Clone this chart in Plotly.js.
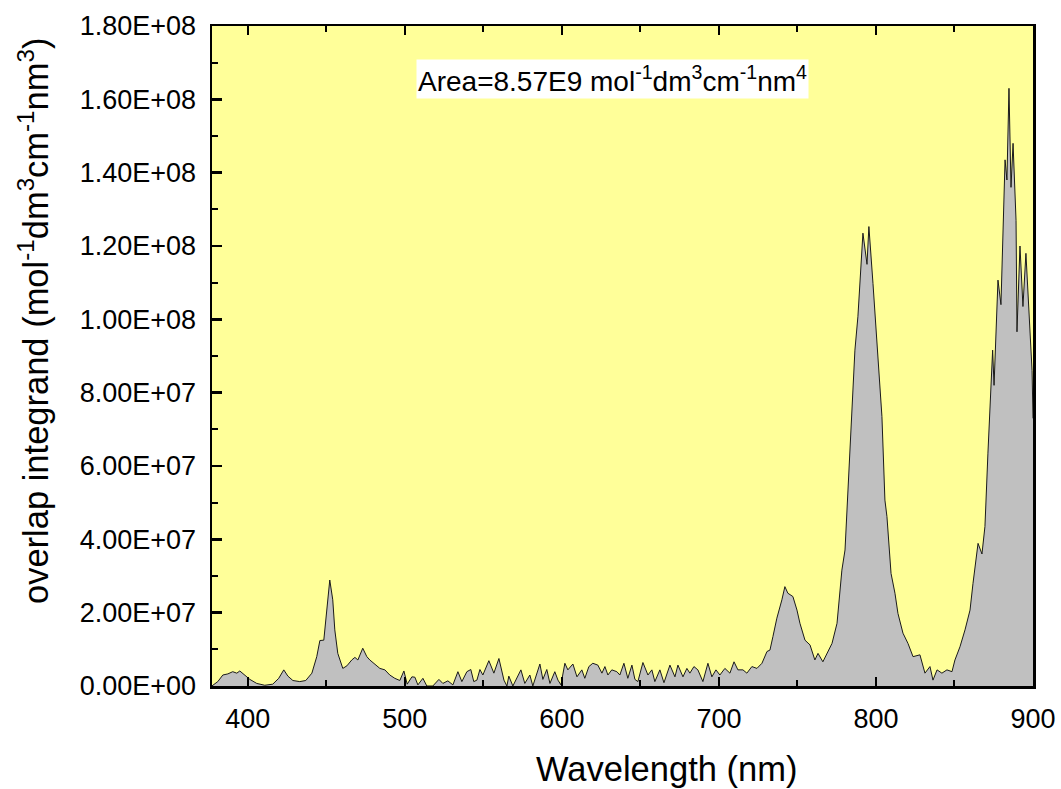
<!DOCTYPE html>
<html>
<head>
<meta charset="utf-8">
<script src="https://cdn.plot.ly/plotly-3.0.1.min.js"></script>
<style>html,body{margin:0;padding:0;background:#fff;}#chart{width:1061px;height:789px;}</style>
</head>
<body>
<div id="chart"></div>
<script>
// Wavelength (nm)
const wavelength = [
377.1,380.9,384.1,387.3,390.4,393.0,394.9,398.1,401.3,405.7,410.8,415.9,419.7,422.9,425.5,428.7,433.1,436.9,440.8,443.9,
445.9,448.4,450.3,452.2,454.1,455.4,457.3,460.5,463.1,466.2,468.2,470.1,473.2,475.8,477.7,480.9,484.1,487.3,490.4,493.6,
496.8,499.4,501.5,504.5,506.4,508.3,511.5,514.0,517.8,521.7,524.2,527.4,530.6,533.8,536.3,539.5,542.0,543.9,545.9,547.8,
549.7,553.5,556.7,559.9,563.1,565.0,566.2,568.8,573.9,576.4,579.6,581.5,586.0,587.9,590.4,592.4,595.5,597.5,599.4,601.9,
603.8,607.0,609.6,612.7,614.6,617.2,619.7,622.9,625.5,627.4,629.3,631.8,635.0,636.9,639.5,642.0,644.6,646.5,648.4,651.6,
654.8,657.3,659.2,662.4,665.0,668.8,672.0,673.9,677.1,679.6,681.5,684.1,686.6,689.8,693.0,695.5,698.1,700.6,703.8,707.0,
709.6,712.1,715.3,717.8,721.0,724.2,727.4,730.6,732.5,734.4,736.9,740.1,742.0,743.9,747.1,749.7,751.6,754.8,758.0,761.1,
763.1,766.2,768.8,772.0,775.2,778.3,780.3,783.4,785.4,786.6,788.5,791.7,794.3,795.5,798.1,800.0,801.3,803.8,805.7,807.0,
809.6,812.1,814.0,817.2,820.4,823.6,828.0,831.2,834.4,836.3,838.9,842.0,845.2,848.4,850.3,853.5,856.7,859.9,861.8,865.0,
867.5,869.4,871.3,874.3,875.2,877.7,879.6,882.2,883.4,884.7,886.0,887.3,889.2,889.8,891.7,893.6,895.5,897.5,899.4,900.0
];
// Overlap integrand, in units of 1E+07 mol^-1 dm^3 cm^-1 nm^3
const integrandE7 = [
0.00,0.12,0.30,0.33,0.39,0.35,0.41,0.30,0.18,0.07,0.02,0.05,0.21,0.44,0.27,0.15,0.12,0.15,0.35,0.80,
1.24,1.25,1.98,2.89,2.35,1.53,0.89,0.48,0.55,0.71,0.78,0.71,1.03,0.80,0.71,0.60,0.48,0.44,0.30,0.21,
0.15,0.41,0.05,0.25,0.24,0.03,0.21,0.00,0.00,0.18,0.07,0.14,0.03,0.39,0.12,0.39,0.45,0.12,0.16,0.45,
0.30,0.69,0.35,0.75,0.16,0.00,0.27,0.00,0.44,0.07,0.30,0.00,0.60,0.18,0.45,0.07,0.39,0.16,0.03,0.62,
0.44,0.60,0.25,0.44,0.21,0.53,0.62,0.57,0.35,0.53,0.30,0.44,0.39,0.30,0.62,0.21,0.57,0.18,0.12,0.64,
0.30,0.44,0.12,0.44,0.09,0.57,0.25,0.57,0.25,0.48,0.35,0.53,0.44,0.12,0.62,0.25,0.44,0.30,0.48,0.35,
0.66,0.44,0.44,0.35,0.53,0.48,0.62,0.94,0.98,1.35,1.85,2.35,2.71,2.53,2.44,2.07,1.71,1.25,1.12,0.71,
0.89,0.66,0.89,1.16,1.71,3.16,3.71,6.44,7.80,9.16,10.07,12.35,11.50,12.53,10.98,9.80,9.07,7.35,5.07,4.62,
3.07,2.53,1.98,1.44,1.16,0.80,0.85,0.35,0.53,0.16,0.44,0.35,0.44,0.39,0.71,1.07,1.53,2.07,2.80,3.89,
3.60,4.35,6.35,9.16,8.20,11.07,10.40,14.35,13.80,16.30,13.60,14.80,12.70,9.66,12.00,10.35,11.80,9.98,8.60,7.30
];
const unitScale = 1e7;

// Tick labels and texts
const yTickVals = [0, 2e7, 4e7, 6e7, 8e7, 1e8, 1.2e8, 1.4e8, 1.6e8, 1.8e8];
const yTickText = ["0.00E+00","2.00E+07","4.00E+07","6.00E+07","8.00E+07","1.00E+08","1.20E+08","1.40E+08","1.60E+08","1.80E+08"];
const xTickVals = [400, 500, 600, 700, 800, 900];
const xTickText = ["400","500","600","700","800","900"];
const xTitle = "Wavelength (nm)";
const yTitle = "overlap integrand (mol<sup>-1</sup>dm<sup>3</sup>cm<sup>-1</sup>nm<sup>3</sup>)";
const areaLabel = "Area=8.57E9 mol<sup>-1</sup>dm<sup>3</sup>cm<sup>-1</sup>nm<sup>4</sup>";

const font = "Liberation Sans, Arial, Helvetica, sans-serif";

const trace = {
  x: wavelength,
  y: integrandE7.map(v => v * unitScale),
  type: "scatter",
  mode: "lines",
  fill: "tozeroy",
  fillcolor: "#c0c0c0",
  line: {color: "#1a1a1a", width: 1},
  hoverinfo: "x+y"
};

const layout = {
  width: 1061, height: 789,
  margin: {l: 212, r: 28, t: 26, b: 103},
  paper_bgcolor: "#ffffff",
  plot_bgcolor: "#ffff99",
  showlegend: false,
  font: {family: font, color: "#000"},
  xaxis: {
    range: [377.2, 900],
    tickmode: "array", tickvals: xTickVals, ticktext: xTickText,
    ticks: "inside", ticklen: 9, tickwidth: 2.5, tickcolor: "#000",
    minor: {tickmode: "linear", tick0: 350, dtick: 50, ticks: "inside", ticklen: 6, tickwidth: 2, tickcolor: "#000"},
    showline: true, linewidth: 2.5, linecolor: "#000", mirror: "ticks",
    showgrid: false, zeroline: false,
    tickfont: {size: 27, family: font},
    ticklabelstandoff: 7,
    automargin: false
  },
  yaxis: {
    range: [0, 1.8e8],
    tickmode: "array", tickvals: yTickVals, ticktext: yTickText,
    ticks: "inside", ticklen: 10, tickwidth: 2.5, tickcolor: "#000",
    minor: {tickmode: "linear", tick0: 0, dtick: 1e7, ticks: "inside", ticklen: 6, tickwidth: 2, tickcolor: "#000"},
    showline: true, linewidth: 2.5, linecolor: "#000", mirror: true,
    showgrid: false, zeroline: false,
    tickfont: {size: 27, family: font},
    ticklabelstandoff: 8,
    automargin: false
  },
  annotations: [
    {
      xref: "paper", yref: "paper",
      x: 0.488, y: 0.92,
      xanchor: "center", yanchor: "middle",
      text: areaLabel,
      showarrow: false,
      font: {size: 28, family: font, color: "#000"},
      bgcolor: "#ffffff",
      borderpad: 1
    },
    {
      xref: "paper", yref: "paper",
      x: 0.553, y: -0.125,
      xanchor: "center", yanchor: "middle",
      text: xTitle,
      showarrow: false,
      font: {size: 34.5, family: font, color: "#000"}
    },
    {
      xref: "paper", yref: "paper",
      x: -0.218, y: 0.553,
      xanchor: "center", yanchor: "middle",
      textangle: -90,
      text: yTitle,
      showarrow: false,
      font: {size: 34.5, family: font, color: "#000"}
    }
  ]
};

Plotly.newPlot("chart", [trace], layout, {displayModeBar: false, staticPlot: true});
</script>
</body>
</html>
